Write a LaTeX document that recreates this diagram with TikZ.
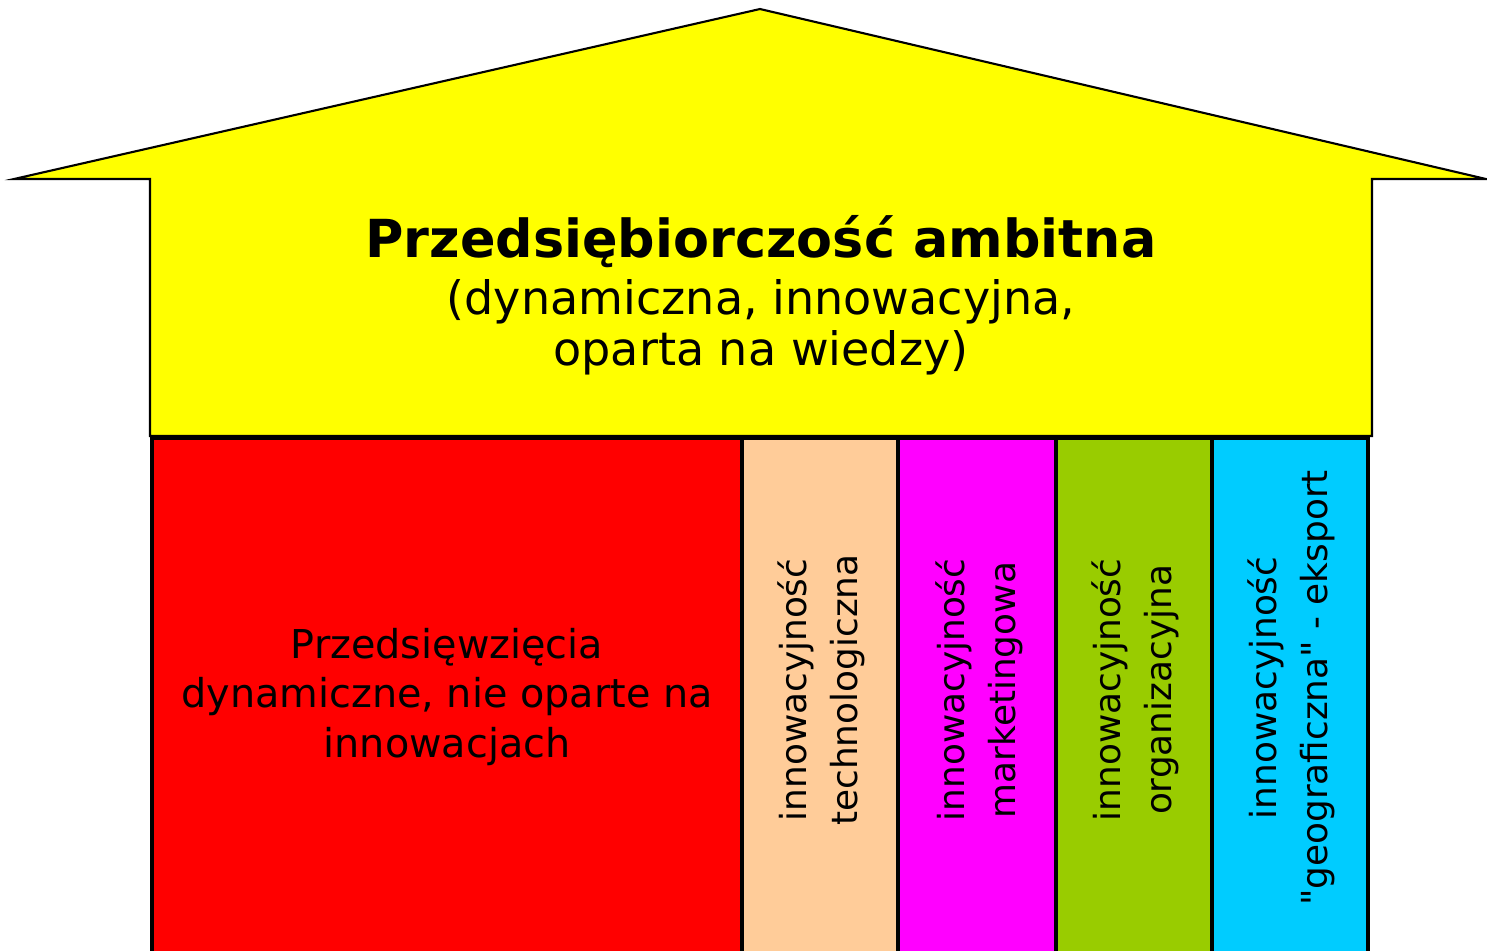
\documentclass[tikz,border=0pt]{standalone}
\usepackage{fontspec}
\setmainfont{DejaVu Sans}
\usepackage{tikz}
\usetikzlibrary{positioning}

\definecolor{roofyellow}{HTML}{FFFF00}
\definecolor{pillarred}{HTML}{FF0000}
\definecolor{pillarpeach}{HTML}{FFCC99}
\definecolor{pillarmagenta}{HTML}{FF00FF}
\definecolor{pillargreen}{HTML}{99CC00}
\definecolor{pillarcyan}{HTML}{00CCFF}

\begin{document}
\begin{tikzpicture}[x=0.01cm, y=-0.01cm, line width=0.85pt,
  roof/.style={draw=black, line width=0.6pt, fill=roofyellow},
  pillar/.style={draw=black, line width=0.9pt},
  vlabel/.style={rotate=90, align=center, inner sep=0pt, font=\fontsize{10.2}{14.5}\selectfont},
  heading/.style={anchor=base, inner sep=0pt, font=\fontsize{14.9}{18}\selectfont\bfseries},
  subheading/.style={anchor=base, inner sep=0pt, font=\fontsize{13.1}{16}\selectfont}]
\useasboundingbox (0,0) rectangle (1487,950);
\begin{scope}
\clip (0,0) rectangle (1487,950);

% roof and beam
\draw[roof] (14,179) -- (760,9) -- (1486,179) -- (1372,179) -- (1372,436)
  -- (150,436) -- (150,179) -- cycle;
\node[heading] (title) at (761,257) {Przedsiębiorczość ambitna};
\node[subheading] (subA) at (761,314) {(dynamiczna, innowacyjna,};
\node[subheading] (subB) at (761,365) {oparta na wiedzy)};

% pillars
\draw[pillar, fill=pillarred] (152,438) rectangle (742,970);
\node[align=center, inner sep=0pt, font=\fontsize{11.3}{14.2}\selectfont] (dynamic) at (447,697)
  {Przedsięwzięcia\\dynamiczne, nie oparte na\\innowacjach};

\draw[pillar, fill=pillarpeach] (742,438) rectangle (898,970);
\node[vlabel] (tech) at (821,690) {innowacyjność\\technologiczna};

\draw[pillar, fill=pillarmagenta] (898,438) rectangle (1056,970);
\node[vlabel] (market) at (979,690) {innowacyjność\\marketingowa};

\draw[pillar, fill=pillargreen] (1056,438) rectangle (1212,970);
\node[vlabel] (organ) at (1135,690) {innowacyjność\\organizacyjna};

\draw[pillar, fill=pillarcyan] (1212,438) rectangle (1368,970);
\node[vlabel] (geo) at (1291,688) {innowacyjność\\\textquotedbl geograficzna\textquotedbl{} - eksport};
\end{scope}
\end{tikzpicture}
\end{document}
